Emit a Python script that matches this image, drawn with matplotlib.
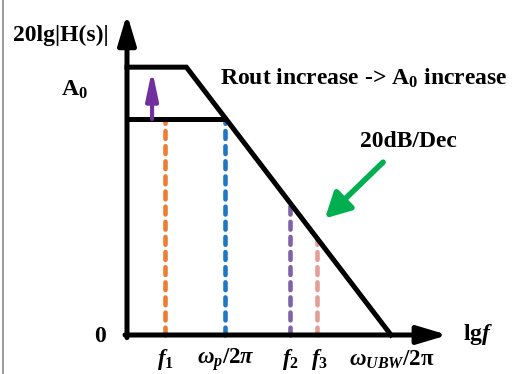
"""
Sketch of the asymptotic Bode magnitude plot: raising Rout raises A0,
roll-off of 20 dB/dec down to the unity bandwidth.
"""

import matplotlib

matplotlib.use("Agg")
import matplotlib.pyplot as plt  # noqa: E402
from matplotlib.lines import Line2D  # noqa: E402

plt.rcParams["font.family"] = ["Liberation Serif", "DejaVu Serif"]
plt.rcParams["font.weight"] = "bold"
plt.rcParams["mathtext.fontset"] = "custom"
plt.rcParams["mathtext.rm"] = "Liberation Serif:bold"
plt.rcParams["mathtext.it"] = "Liberation Serif:italic:bold"
plt.rcParams["mathtext.bf"] = "Liberation Serif:bold"

# x in decades of frequency from the axis origin, y in dB
HIGH_X = [0.0, 0.9, 4.0]          # curve after Rout increase
HIGH_Y = [62.0, 62.0, 0.0]
LOW_X = [0.0, 1.48]               # original DC gain plateau
LOW_Y = [50.0, 50.0]

MARK_X = [0.58, 1.48, 2.47, 2.88]
MARK_Y = [50.0, 50.0, 30.6, 22.4]
MARK_COLORS = ["#ED7D31", "#1F77C4", "#7F62A8", "#E39E98"]

TICK_X = [0.58, 1.5, 2.47, 2.92, 4.02]
TICK_LABELS = [r"$f_{\mathit{1}}$", r"$\omega_p/2\pi$", r"$f_{\mathit{2}}$",
               r"$f_{\mathit{3}}$", r"$\omega_{UBW}/2\mathrm{\pi}$"]

X_END = 4.86     # arrow tip of lg f axis
Y_END = 74.3     # arrow tip of gain axis

fig = plt.figure(figsize=(5.24, 3.74), dpi=100)
ax = fig.add_axes([0, 0, 1, 1])
ax.set_xlim(-1.924, 6.015)
ax.set_ylim(-9.03, 77.55)
ax.axis("off")

# dotted markers first so the black curves sit on top
for x, y, c in zip(MARK_X, MARK_Y, MARK_COLORS):
    ax.plot([x, x], [0, y], color=c, lw=3.3, ls=(0, (1.7, 1.6)),
            dash_capstyle="round", zorder=2)

# axes with arrows
axis_style = "-|>,head_length=0.9,head_width=0.27"
ax.annotate("", xy=(X_END, 0), xytext=(-0.03, 0),
            arrowprops=dict(arrowstyle=axis_style, lw=3.6, color="black",
                            mutation_scale=20, shrinkA=0, shrinkB=0), zorder=4)
ax.annotate("", xy=(0, Y_END), xytext=(0, -0.6),
            arrowprops=dict(arrowstyle=axis_style, lw=3.6, color="black",
                            mutation_scale=20, shrinkA=0, shrinkB=0), zorder=4)

ax.plot(HIGH_X, HIGH_Y, color="black", lw=3.6, solid_joinstyle="miter", zorder=3)
ax.plot(LOW_X, LOW_Y, color="black", lw=3.6, zorder=3)

# purple arrow: A0 goes up
ax.annotate("", xy=(0.38, 61.4), xytext=(0.38, 50),
            arrowprops=dict(arrowstyle="-|>,head_length=0.95,head_width=0.2",
                            lw=3.0, color="#7030A0", mutation_scale=18,
                            shrinkA=0, shrinkB=0), zorder=5)

# green arrow pointing to the slope
ax.annotate("", xy=(3.0, 27.0), xytext=(3.88, 40.0),
            arrowprops=dict(arrowstyle="-|>,head_length=0.75,head_width=0.4",
                            lw=4.0, color="#00B050", mutation_scale=20,
                            shrinkA=0, shrinkB=0, capstyle="round"), zorder=5)

# texts
fs = 17
ax.text(-1.0, 69.4, "20lg|H(s)|", fontsize=fs, ha="center", va="center")
ax.text(-0.79, 56.7, r"A$_\mathbf{0}$", fontsize=fs, ha="center", va="center")
ax.text(1.41, 59.5, r"Rout increase -> A$_\mathbf{0}$ increase", fontsize=fs,
        ha="left", va="center")
ax.text(4.27, 44.7, "20dB/Dec", fontsize=fs, ha="center", va="center")
ax.text(-0.41, -0.4, "0", fontsize=fs, ha="center", va="center")
ax.text(5.09, 0.2, r"lg$f$", fontsize=fs, ha="left", va="center")

for x, lab in zip(TICK_X, TICK_LABELS):
    ax.text(x, -5.7, lab, fontsize=16.5, ha="center", va="center")

# thin grey frame edge on the left, as in the source image
fig.add_artist(Line2D([0.0055, 0.0055], [0, 1], color="#8a8a8a", lw=1.2))

fig.savefig("out.png", dpi=100)
